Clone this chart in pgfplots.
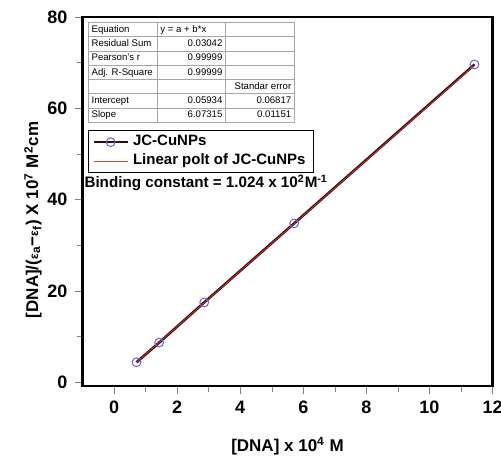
\documentclass[border=0pt]{standalone}
\usepackage{pgfplots}
\pgfplotsset{compat=1.18}
\usepackage{fontspec}
\setmainfont{Liberation Sans}
\usepackage{array}
\usepackage{colortbl}
\definecolor{mk}{RGB}{100,100,215}
\definecolor{fitred}{RGB}{225,60,60}
\definecolor{dataline}{RGB}{55,10,10}
\begin{document}
\begin{tikzpicture}
\begin{axis}[
  scale only axis,
  width=205pt, height=184.5pt,
  xmin=-1, xmax=12, ymin=-0.8, ymax=80,
  xtick={0,2,4,6,8,10,12}, ytick={0,20,40,60,80},
  minor xtick={1,3,5,7,9,11}, minor ytick={10,30,50,70},
  xtick pos=bottom, ytick pos=left, tick align=outside,
  major tick length=4pt, minor tick length=3pt,
  axis line style={line width=1.3pt},
  /pgf/number format/assume math mode=true,
  ticklabel style={font=\fontsize{9}{10.5}\selectfont\bfseries},
  xlabel={[DNA] x 10\textsuperscript{4} M},
  ylabel={[DNA]/({\fontsize{6}{7}\selectfont ε}\textsubscript{a}−{\fontsize{6}{7}\selectfont ε}\textsubscript{f}) X 10\textsuperscript{7} M\textsuperscript{2}cm},
  label style={font=\fontsize{8.5}{10}\selectfont\bfseries},
  xlabel style={yshift=-5pt},
  ylabel style={at={(ticklabel cs:0.45)}, yshift=-4pt},
  legend style={at={(rel axis cs:0.013,0.694)}, anchor=north west,
    font=\fontsize{7.5}{9}\selectfont\bfseries, draw=black, line width=0.5pt,
    inner xsep=2pt, inner ysep=0.5pt, row sep=-1.5pt},
  legend cell align=left,
]
\coordinate (sw) at (rel axis cs:0,0);
\addplot[dataline, line width=1.3pt, mark=o, mark size=2.2pt,
  mark options={draw=mk, fill=white, line width=0.5pt}]
  coordinates {(0.714,4.4) (1.43,8.7) (2.86,17.5) (5.71,34.8) (11.43,69.6)};
\addlegendentry{JC-CuNPs}
\addplot[fitred, line width=0.3pt]
  coordinates {(0.714,4.40) (11.43,69.48)};
\addlegendentry{Linear polt of JC-CuNPs}
\node[anchor=north west, inner sep=0pt] at (rel axis cs:0.012,0.987) {%
  \fontsize{4.8}{6}\selectfont
  \arrayrulecolor{gray!70}\setlength{\tabcolsep}{1.5pt}\renewcommand{\arraystretch}{1.12}%
  \begin{tabular}{|>{\raggedright\arraybackslash}p{31pt}|>{\raggedleft\arraybackslash}p{31pt}|>{\raggedleft\arraybackslash}p{31pt}|}
  \hline
  Equation & \multicolumn{1}{l|}{y = a + b*x} & \\ \hline
  Residual Sum & 0.03042 & \\ \hline
  Pearson's r & 0.99999 & \\ \hline
  Adj. R-Square & 0.99999 & \\ \hline
   & & Standar error \\ \hline
  Intercept & 0.05934 & 0.06817 \\ \hline
  Slope & 6.07315 & 0.01151 \\ \hline
  \end{tabular}};
\node[anchor=west, inner sep=0pt, font=\fontsize{7.6}{9}\selectfont\bfseries]
  at (rel axis cs:0.004,0.55) {Binding constant = 1.024 x 10\textsuperscript{2}M\textsuperscript{-1}};
\end{axis}
\pgfresetboundingbox
\path[use as bounding box] ([shift={(-41.25pt,-37pt)}]sw) rectangle ([shift={(209.25pt,193pt)}]sw);
\end{tikzpicture}
\end{document}
